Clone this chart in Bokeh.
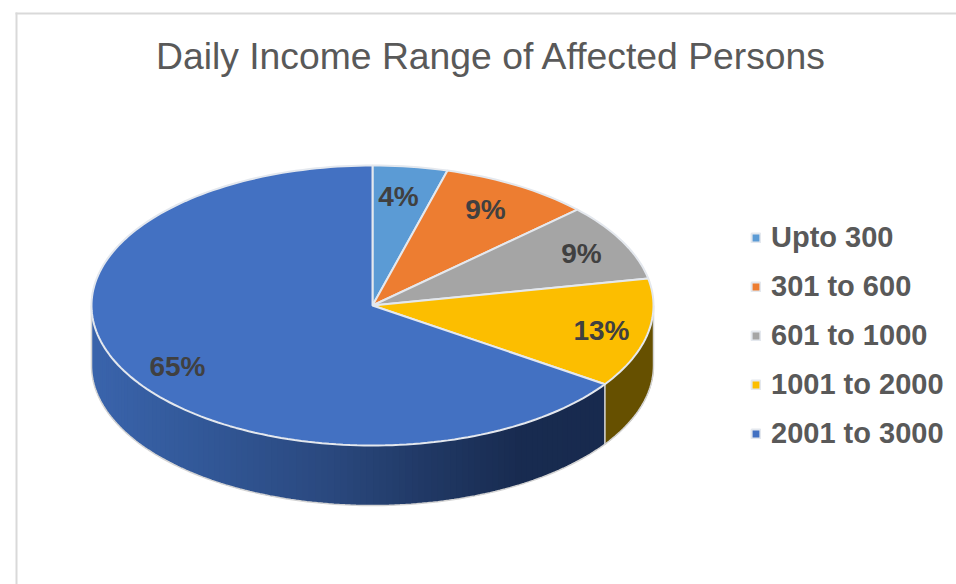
import math
from bokeh.plotting import figure
from bokeh.models import Range1d, Legend, LegendItem, BoxAnnotation, Label
from bokeh.core.properties import value
from bokeh.embed import file_html
from bokeh.resources import INLINE

# ---- data
categories = ["Upto 300", "301 to 600", "601 to 1000", "1001 to 2000", "2001 to 3000"]
shares = [4.3, 8.7, 8.9, 12.6, 65.5]          # slice sizes as measured
share_labels = ["4%", "9%", "9%", "13%", "65%"]
slice_colors = ["#5B9BD5", "#ED7D31", "#A5A5A5", "#FCBE00", "#4371C2"]
title_text = "Daily Income Range of Affected Persons"

# ---- layout (page pixels)
W, H = 956, 584
CX, CY, RX, RY, DEPTH = 372, 305, 281, 140, 60
FONT = "Liberation Sans"
label_pos = [(398, 196), (485, 209), (581, 253), (601, 330), (177, 366)]

p = figure(width=W, height=H, output_backend="svg", toolbar_location=None,
           x_range=Range1d(0, W), y_range=Range1d(H, 0),
           min_border_left=0, min_border_right=0, min_border_top=0, min_border_bottom=0)
p.axis.visible = False
p.grid.visible = False
p.outline_line_color = None


def px(a):
    return CX + RX * math.sin(a)


def py(a, dy=0):
    return CY - RY * math.cos(a) + dy


total = sum(shares)
edges = [0.0]
for s in shares:
    edges.append(edges[-1] + s / total * 2 * math.pi)

# ---- outer wall: yellow piece
a0, a1 = edges[3], edges[4]
n = 40
arc = [a0 + (a1 - a0) * i / n for i in range(n + 1)]
vis = [a for a in arc if a >= math.pi / 2]
p.patch([px(a) for a in vis] + [px(a) for a in reversed(vis)],
        [py(a) for a in vis] + [py(a, DEPTH) for a in reversed(vis)],
        fill_color="#665000", line_color="#665000", line_width=0.5)

# ---- outer wall: blue piece, shaded in thin strips
stops = [(91, (58, 100, 172)), (200, (50, 88, 152)), (330, (42, 72, 126)),
         (430, (32, 56, 100)), (520, (24, 43, 80)), (603, (24, 42, 78))]


def shade(x):
    for (x0, c0), (x1, c1) in zip(stops, stops[1:]):
        if x <= x1:
            t = max(0, (x - x0) / (x1 - x0))
            return "#%02x%02x%02x" % tuple(round(u + (v - u) * t) for u, v in zip(c0, c1))
    return "#%02x%02x%02x" % stops[-1][1]


a0 = edges[4]
a1 = 1.5 * math.pi
m = 110
for i in range(m):
    b0 = a0 + (a1 - a0) * i / m
    b1 = a0 + (a1 - a0) * (i + 2) / m       # each strip runs under the next one
    b1 = min(b1, a1)
    c = shade((px(b0) + px(a0 + (a1 - a0) * (i + 1) / m)) / 2)
    p.patch([px(b0), px(b1), px(b1), px(b0)],
            [py(b0), py(b1), py(b1, DEPTH), py(b0, DEPTH)],
            fill_color=c, line_color=None)

# ---- wall outline and separator
low = [math.pi / 2 + math.pi * i / 160 for i in range(161)]
p.line([px(low[0])] + [px(a) for a in low] + [px(low[-1])],
       [py(low[0])] + [py(a, DEPTH) for a in low] + [py(low[-1])],
       line_color="#d4d4d4", line_width=1.5)
p.line([px(edges[4])] * 2, [py(edges[4]), py(edges[4], DEPTH)], line_color="#d9d9d9", line_width=1.5)

# ---- top face
items = []
for i, name in enumerate(categories):
    a0, a1 = edges[i], edges[i + 1]
    k = max(6, int((a1 - a0) * 40))
    arc = [a0 + (a1 - a0) * j / k for j in range(k + 1)]
    r = p.patch([CX] + [px(a) for a in arc], [CY] + [py(a) for a in arc],
                fill_color=slice_colors[i], line_color="#e4e8ee", line_width=2)
    items.append(LegendItem(label=name, renderers=[r]))

# ---- slice labels
p.text([q[0] for q in label_pos], [q[1] for q in label_pos], text=share_labels,
       text_font=value(FONT), text_font_size="28px", text_font_style="bold",
       text_color="#404040", text_align="center", text_baseline="middle")

# ---- title
p.add_layout(Label(x=491, y=55, text=title_text, text_font=FONT, text_font_size="37.3px",
                   text_color="#595959", text_align="center", text_baseline="middle"))

# ---- legend
legend = Legend(items=items, location=(750, 133), orientation="vertical", glyph_width=11, glyph_height=11,
                label_standoff=10, spacing=14, padding=0, margin=0, label_height=35,
                label_text_font=FONT, label_text_font_size="29px", label_text_font_style="bold",
                label_text_color="#595959", background_fill_alpha=0, border_line_alpha=0)
p.add_layout(legend)

# ---- chart-area border
p.add_layout(BoxAnnotation(left=15, right=W, top=12, bottom=14, fill_color="#d9d9d9", fill_alpha=1, line_alpha=0))
p.add_layout(BoxAnnotation(left=15, right=17, top=12, bottom=H, fill_color="#d9d9d9", fill_alpha=1, line_alpha=0))

open("out.html", "w").write(file_html(p, INLINE))
